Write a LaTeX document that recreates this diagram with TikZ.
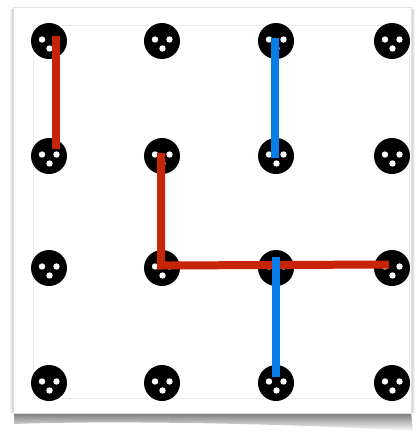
\documentclass[tikz,border=0pt]{standalone}
\usetikzlibrary{calc}
\definecolor{lred}{RGB}{200,36,8}
\definecolor{lblue}{RGB}{8,124,232}
\begin{document}
\begin{tikzpicture}[x=1pt,y=-1pt,
  dot/.style={circle,fill=black,minimum size=36pt,inner sep=0pt,
    path picture={
      \fill[white] ([shift={(-7pt,1.5pt)}]path picture bounding box.center) circle[radius=3.2pt];
      \fill[white] ([shift={(7.5pt,1.5pt)}]path picture bounding box.center) circle[radius=3.2pt];
      \fill[white] ([shift={(0.5pt,-7.5pt)}]path picture bounding box.center) circle[radius=3.2pt];
    }},
  link/.style={line width=8pt,line cap=butt,line join=miter}]
\useasboundingbox (0,0) rectangle (417,434);
\fill[white] (0,0) rectangle (417,434);
% shadow
\shade[top color=black!55,bottom color=white] (14,412) -- (411,412) -- (413,431) .. controls (300,424) and (120,420) .. (14,424) -- cycle;
\shade[left color=white,right color=black!25] (9,9) rectangle (14,412);
\shade[left color=black!20,right color=white] (411,9) rectangle (415,412);
% frame
\draw[black!12,fill=white] (13,7) rectangle (411,413);
\draw[black!8] (33,25) rectangle (409,398);
% dots
\foreach \r/\y in {1/41,2/156,3/268,4/383}{
  \foreach \c/\x in {1/49,2/162,3/276,4/392}{
    \node[dot] (d\r\c) at (\x,\y) {};
  }
}
% links
\draw[link,lred] ([shift={(7pt,5pt)}]d11.center) -- ([shift={(7pt,7pt)}]d21.center);
\draw[link,lred] ([shift={(-1pt,3pt)}]d22.center) -- ([shift={(-1pt,2.5pt)}]d32.center) -- ([shift={(-3pt,3.5pt)}]d34.center);
\draw[link,lblue] ([shift={(-1.5pt,3pt)}]d13.center) -- ([shift={(-1.5pt,-2pt)}]d23.center);
\draw[link,lblue] ([shift={(0pt,11pt)}]d33.center) -- ([shift={(0pt,6pt)}]d43.center);
\end{tikzpicture}
\end{document}
